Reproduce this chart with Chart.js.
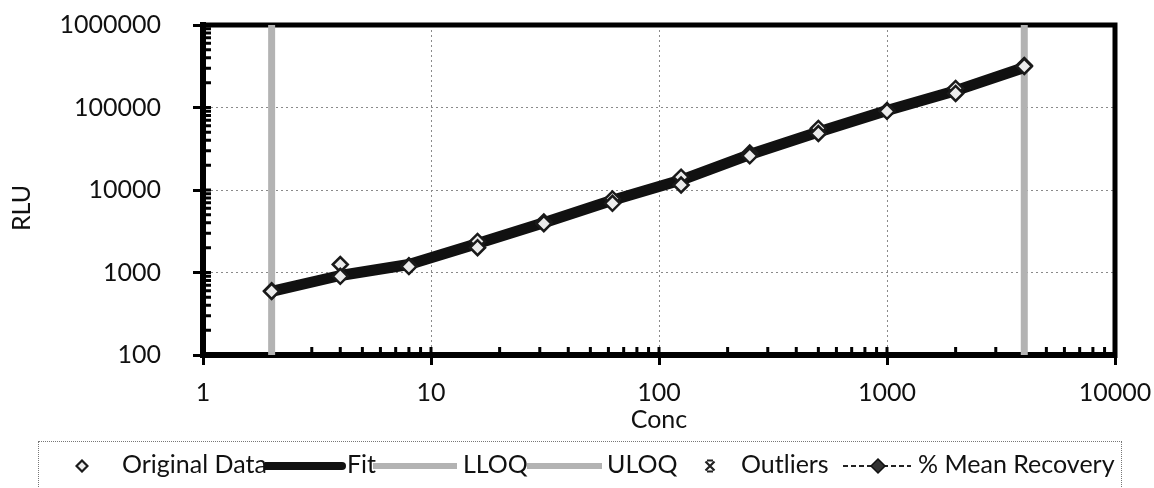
<!DOCTYPE html>
<html>
<head>
<meta charset="utf-8">
<title>Curva padrão</title>
<script src="https://cdn.jsdelivr.net/npm/chart.js@4/dist/chart.umd.min.js"></script>
<style>
  body { margin: 0; background: #fff; }
  #quadro { position: relative; width: 1154px; height: 488px; overflow: hidden; font-family: Lato, sans-serif; color: #111; }
  #grafico { position: absolute; left: 0; top: 0; }
  #legenda { position: absolute; left: 38px; top: 441px; width: 1084px; height: 70px; border: 1px dotted #777; box-sizing: border-box; }
  .item { position: absolute; top: 449px; font-size: 25px; line-height: 29px; white-space: nowrap; }
  .linha, .simbolo { position: absolute; }
</style>
</head>
<body>
<div id="quadro">
  <canvas id="grafico" width="1154" height="488"></canvas>
  <div id="legenda"></div>
  <svg class="simbolo" style="left:75px;top:459px" width="14" height="14"><path d="M7 1.5 L12.5 7 L7 12.5 L1.5 7 Z" fill="#ececec" stroke="#1a1a1a" stroke-width="2.2"/></svg>
  <span class="item" style="left:122px">Original Data</span>
  <div class="linha" style="left:265px;top:462px;width:81px;height:8px;background:#111;border-radius:0 4px 4px 0"></div>
  <span class="item" style="left:347px">Fit</span>
  <div class="linha" style="left:373px;top:463px;width:84px;height:6px;background:#b3b3b3"></div>
  <span class="item" style="left:463px">LLOQ</span>
  <div class="linha" style="left:527px;top:463px;width:75px;height:6px;background:#b3b3b3"></div>
  <span class="item" style="left:607px">ULOQ</span>
  <svg class="simbolo" style="left:703px;top:459px" width="14" height="14">
    <path d="M2.5 2.5 L11.5 11.5 M11.5 2.5 L2.5 11.5 M4 1.5 L10 1.5 M4 12.5 L10 12.5" stroke="#222" stroke-width="2.2" fill="none"/>
  </svg>
  <span class="item" style="left:741px">Outliers</span>
  <svg class="simbolo" style="left:843px;top:457px" width="68" height="18">
    <path d="M0 9 L68 9" stroke="#222" stroke-width="2" stroke-dasharray="5 3" fill="none"/>
    <path d="M35 2 L42 9 L35 16 L28 9 Z" fill="#333" stroke="#111" stroke-width="1.5"/>
  </svg>
  <span class="item" style="left:918px">% Mean Recovery</span>
</div>

<script>
// dados
const concentracoes = [2, 4, 8, 16, 31.25, 62.5, 125, 250, 500, 1000, 2000, 4000];
const rluRep1 = [600, 1250, 1210, 2380, 4100, 7800, 14300, 28000, 55700, 92000, 170000, 323000];
const rluRep2 = [590, 900, 1180, 2000, 3900, 6900, 11500, 26000, 48400, 90000, 148000, 315000];
const rluAjuste = [590, 920, 1250, 2250, 4000, 7500, 13200, 26900, 50400, 92000, 160000, 306000];
const lloq = [2];
const uloq = [4000];
const xTicks = [1, 10, 100, 1000, 10000];
const yTicks = [100, 1000, 10000, 100000, 1000000];

Chart.defaults.font.family = "Lato, sans-serif";
Chart.defaults.color = "#111";

function ehMaior(lista, v) {
  return lista.some(t => Math.abs(t - v) < t * 1e-6);
}

const pontosOriginais = concentracoes.map((c, i) => ({ x: c, y: rluRep1[i] }))
  .concat(concentracoes.map((c, i) => ({ x: c, y: rluRep2[i] })));
const pontosAjuste = concentracoes.map((c, i) => ({ x: c, y: rluAjuste[i] }));
const linhaLloq = [yTicks[0], yTicks[yTicks.length - 1]].map(y => ({ x: lloq[0], y }));
const linhaUloq = [yTicks[0], yTicks[yTicks.length - 1]].map(y => ({ x: uloq[0], y }));

// marcas menores para dentro, e moldura de cima/direita
const moldura = {
  id: "moldura",
  beforeDatasetsDraw(chart) {
    const { ctx, chartArea, scales } = chart;
    ctx.save();
    ctx.strokeStyle = "#000";
    ctx.lineWidth = 3;
    ctx.beginPath();
    for (let d = scales.x.min; d < scales.x.max; d *= 10) {
      for (let k = 1; k <= 9; k++) {
        const px = scales.x.getPixelForValue(k * d);
        ctx.moveTo(px, chartArea.bottom);
        ctx.lineTo(px, chartArea.bottom - 8);
      }
    }
    for (let d = scales.y.min; d < scales.y.max; d *= 10) {
      for (let k = 1; k <= 9; k++) {
        const py = scales.y.getPixelForValue(k * d);
        ctx.moveTo(chartArea.left, py);
        ctx.lineTo(chartArea.left + 8, py);
      }
    }
    ctx.stroke();
    ctx.lineWidth = 5;
    ctx.beginPath();
    ctx.moveTo(chartArea.left - 3, chartArea.top);
    ctx.lineTo(chartArea.right, chartArea.top);
    ctx.lineTo(chartArea.right, chartArea.bottom + 3);
    ctx.stroke();
    ctx.restore();
  }
};

const tituloY = {
  id: "tituloY",
  afterDraw(chart) {
    const ctx = chart.ctx;
    ctx.save();
    ctx.translate(22, 208);
    ctx.rotate(-Math.PI / 2);
    ctx.font = "25px Lato, sans-serif";
    ctx.fillStyle = "#111";
    ctx.textAlign = "center";
    ctx.textBaseline = "middle";
    ctx.fillText("RLU", 0, 0);
    ctx.restore();
  }
};

const ctx = document.getElementById("grafico").getContext("2d");

new Chart(ctx, {
  type: "scatter",
  data: {
    datasets: [
      {
        label: "Original Data",
        data: pontosOriginais,
        pointStyle: "rectRot",
        pointRadius: 7.5,
        pointBorderWidth: 2.5,
        pointBackgroundColor: "#ececec",
        pointBorderColor: "#1a1a1a"
      },
      {
        label: "Fit",
        data: pontosAjuste,
        showLine: true,
        borderColor: "#111",
        borderWidth: 11,
        borderJoinStyle: "round",
        pointRadius: 0
      },
      {
        label: "LLOQ",
        data: linhaLloq,
        showLine: true,
        borderColor: "#b3b3b3",
        borderWidth: 7,
        pointRadius: 0,
        clip: false
      },
      {
        label: "ULOQ",
        data: linhaUloq,
        showLine: true,
        borderColor: "#b3b3b3",
        borderWidth: 7,
        pointRadius: 0,
        clip: false
      }
    ]
  },
  options: {
    responsive: false,
    animation: false,
    layout: { padding: { left: 10, right: 39, top: 25, bottom: 47 } },
    plugins: {
      legend: { display: false },
      tooltip: { enabled: false }
    },
    scales: {
      x: {
        type: "logarithmic",
        min: xTicks[0],
        max: xTicks[xTicks.length - 1],
        afterFit(scale) {
          scale.height = 86;
          scale.paddingLeft = 0;
          scale.paddingRight = 0;
        },
        ticks: {
          autoSkip: false,
          maxRotation: 0,
          padding: 13,
          font: { size: 25 },
          callback: v => ehMaior(xTicks, v) ? String(v) : ""
        },
        grid: {
          color: c => c.tick && ehMaior(xTicks, c.tick.value) ? "#8a8a8a" : "rgba(0,0,0,0)",
          lineWidth: 1,
          tickLength: 10,
          tickWidth: 3,
          tickColor: c => c.tick && ehMaior(xTicks, c.tick.value) ? "#000" : "rgba(0,0,0,0)"
        },
        border: { display: true, color: "#000", width: 6, dash: [2, 3] },
        title: { display: true, text: "Conc", font: { size: 25 }, padding: { top: 0, bottom: 6 } }
      },
      y: {
        type: "logarithmic",
        min: yTicks[0],
        max: yTicks[yTicks.length - 1],
        afterFit(scale) {
          scale.width = 193;
          scale.paddingTop = 0;
          scale.paddingBottom = 0;
        },
        ticks: {
          autoSkip: false,
          padding: 32,
          font: { size: 25 },
          callback: v => ehMaior(yTicks, v) ? String(v) : ""
        },
        grid: {
          color: c => c.tick && ehMaior(yTicks, c.tick.value) ? "#8a8a8a" : "rgba(0,0,0,0)",
          lineWidth: 1,
          tickLength: 10,
          tickWidth: 3,
          tickColor: c => c.tick && ehMaior(yTicks, c.tick.value) ? "#000" : "rgba(0,0,0,0)"
        },
        border: { display: true, color: "#000", width: 6, dash: [2, 3] }
      }
    }
  },
  plugins: [moldura, tituloY]
});
</script>
</body>
</html>
